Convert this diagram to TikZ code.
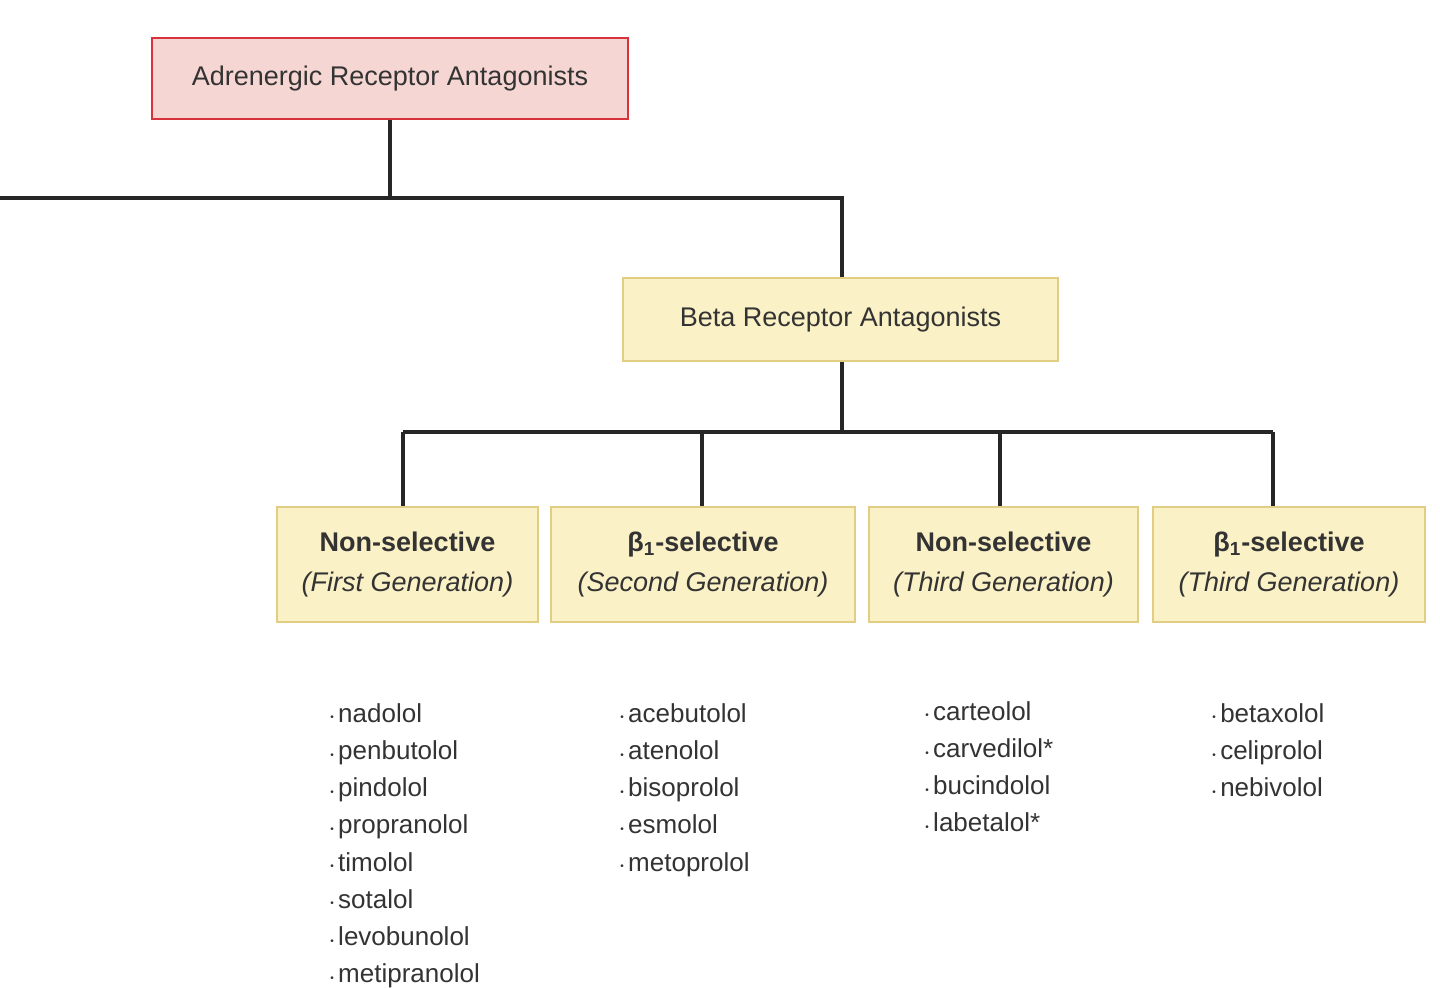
\documentclass[tikz,border=0pt]{standalone}
\usepackage{fontspec}
\setmainfont{Liberation Sans}
\definecolor{pinkf}{HTML}{F6D6D2}
\definecolor{redb}{HTML}{D8323A}
\definecolor{yelf}{HTML}{FBF1C6}
\definecolor{yelb}{HTML}{E2CE82}
\definecolor{txt}{HTML}{333333}
\begin{document}
\begin{tikzpicture}[x=0.5pt,y=-0.5pt,
  box/.style={draw=yelb,fill=yelf,line width=1.2pt,inner sep=0pt,text=txt},
  link/.style={line width=1.6pt,color=black!85},
  lst/.style={anchor=north west,align=left,text=txt,font=\fontsize{13}{18.6}\selectfont,inner sep=0pt}]
\useasboundingbox (0,0) rectangle (1440,987);
\clip (0,0) rectangle (1440,987);
\node[draw=redb,fill=pinkf,line width=1.2pt,minimum width=238pt,minimum height=40.5pt,text=txt,font=\fontsize{13.5}{15}\selectfont] (top) at (390,78.5) {Adrenergic Receptor Antagonists};
\node[box,minimum width=217.5pt,minimum height=41.5pt,font=\fontsize{13.5}{15}\selectfont] (beta) at (840.5,319.5) {Beta Receptor Antagonists};
\tikzset{cat/.style={box,minimum height=57.5pt,align=center,font=\fontsize{13.5}{20}\selectfont}}
\node[cat,minimum width=130.5pt] (c1) at (407.5,564.5) {\textbf{Non-selective}\\\textit{(First Generation)}};
\node[cat,minimum width=152pt] (c2) at (703,564.5) {\textbf{β\textsubscript{1}-selective}\\\textit{(Second Generation)}};
\node[cat,minimum width=134.5pt] (c3) at (1003.5,564.5) {\textbf{Non-selective}\\\textit{(Third Generation)}};
\node[cat,minimum width=136pt] (c4) at (1289,564.5) {\textbf{β\textsubscript{1}-selective}\\\textit{(Third Generation)}};
\coordinate (hl) at (0,198);
\draw[link] (top.south) -- (390,198);
\draw[link] (hl) -- (842,198) -- (beta.north -| 842,0);
\draw[link] (beta.south -| 842,0) -- (842,432);
\draw[link] (403,432) -- (1273,432);
\draw[link] (403,432) -- (c1.north -| 403,0);
\draw[link] (702,432) -- (c2.north -| 702,0);
\draw[link] (1000,432) -- (c3.north -| 1000,0);
\draw[link] (1273,432) -- (c4.north -| 1273,0);
\newcommand{\bl}{{\tiny\raisebox{0.25ex}{•}}\,}
\node[lst] (l1) at (330,703) {\bl nadolol\\\bl penbutolol\\\bl pindolol\\\bl propranolol\\\bl timolol\\\bl sotalol\\\bl levobunolol\\\bl metipranolol};
\node[lst] (l2) at (620,703) {\bl acebutolol\\\bl atenolol\\\bl bisoprolol\\\bl esmolol\\\bl metoprolol};
\node[lst] (l3) at (925,701) {\bl carteolol\\\bl carvedilol*\\\bl bucindolol\\\bl labetalol*};
\node[lst] (l4) at (1212,703) {\bl betaxolol\\\bl celiprolol\\\bl nebivolol};
\end{tikzpicture}
\end{document}
